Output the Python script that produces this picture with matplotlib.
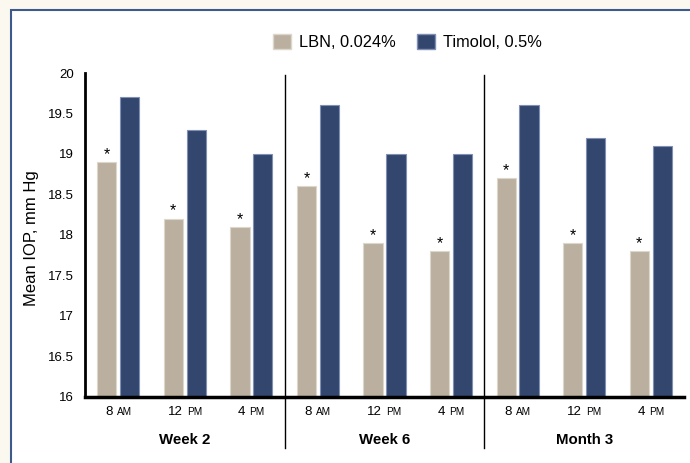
import matplotlib
matplotlib.use('Agg')
import matplotlib.pyplot as plt
import matplotlib.transforms as mtransforms
from matplotlib.patches import Rectangle, Patch
from matplotlib.offsetbox import TextArea, HPacker, AnnotationBbox
import numpy as np

plt.rcParams['font.family'] = ['Liberation Sans', 'DejaVu Sans']

# ---- data ----
periods = ['Week 2', 'Week 6', 'Month 3']
time_nums = ['8', '12', '4', '8', '12', '4', '8', '12', '4']
time_caps = ['AM', 'PM', 'PM', 'AM', 'PM', 'PM', 'AM', 'PM', 'PM']
lbn = [18.9, 18.2, 18.1, 18.6, 17.9, 17.8, 18.7, 17.9, 17.8]
timolol = [19.7, 19.3, 19.0, 19.6, 19.0, 19.0, 19.6, 19.2, 19.1]
series_names = ['LBN, 0.024%', 'Timolol, 0.5%']
yticks = [16, 16.5, 17, 17.5, 18, 18.5, 19, 19.5, 20]
ylabel = 'Mean IOP, mm Hg'

c_lbn = '#BBB0A0'
c_tim = '#33466E'

fig = plt.figure(figsize=(6.9, 4.63), dpi=100, facecolor='#FBF8EF')
# white panel with blue border
panel = Rectangle((10.5 / 690, -0.05), 1.0, 1 - 10 / 463 + 0.05,
                  transform=fig.transFigure, facecolor='white',
                  edgecolor='#3E5A8C', linewidth=1.5, zorder=-5)
fig.patches.append(panel)

ax = fig.add_axes([85 / 690, 1 - 396.5 / 463, 599 / 690, 323.5 / 463])
ax.set_facecolor('none')
ax.set_zorder(2)

x = np.arange(len(lbn))
off = 0.172
w = 0.29
ax.bar(x - off, lbn, width=w, color=c_lbn, edgecolor='#DDD6CB', linewidth=0.8, zorder=2)
ax.bar(x + off, timolol, width=w, color=c_tim, edgecolor='#8090B4', linewidth=0.8, zorder=2)

for xi, v in zip(x, lbn):
    ax.annotate('*', (xi - off, v), xytext=(0, 0), textcoords='offset points',
                ha='center', va='bottom', fontsize=11.5, color='black')

ax.set_xlim(-0.5, len(lbn) - 0.5)
ax.set_ylim(16, 20)
ax.set_yticks(yticks)
ax.set_yticklabels(['%g' % t for t in yticks], fontsize=9.5)
ax.tick_params(axis='y', length=0, pad=8)
ax.set_xticks([])

for s in ['top', 'right']:
    ax.spines[s].set_visible(False)
ax.spines['left'].set_linewidth(2)
ax.spines['bottom'].set_linewidth(2.5)
ax.spines['left'].set_color('black')
ax.spines['bottom'].set_color('black')

ax.set_ylabel(ylabel, fontsize=12)
ax.yaxis.set_label_coords(-0.077, 0.49)

trans = mtransforms.blended_transform_factory(ax.transData, ax.transAxes)

# time-of-day labels with small caps
for xi, num, cap in zip(x, time_nums, time_caps):
    box = HPacker(children=[TextArea(num, textprops=dict(fontsize=9.5)),
                            TextArea(cap, textprops=dict(fontsize=7.2))],
                  align='baseline', pad=0, sep=3)
    ab = AnnotationBbox(box, (xi, -0.047), xycoords=trans, box_alignment=(0.5, 0.5),
                        frameon=False, pad=0, annotation_clip=False)
    ax.add_artist(ab)

# period labels and separators
n_per = 3
for i, p in enumerate(periods):
    cx = i * n_per + (n_per - 1) / 2
    ax.text(cx, -0.136, p, transform=trans, ha='center', va='center',
            fontsize=10.8, fontweight='bold')
    if i > 0:
        sx = i * n_per - 0.5
        ax.plot([sx, sx], [-0.159, 0.994], transform=trans, color='black',
                lw=1, clip_on=False, zorder=3)

handles = [Patch(facecolor=c_lbn, edgecolor='#DDD6CB'),
           Patch(facecolor=c_tim, edgecolor='#8090B4')]
fig.legend(handles, series_names, loc='center', bbox_to_anchor=(0.5906, 0.9086),
           ncol=2, frameon=False, fontsize=11.8, handlelength=1.1,
           handleheight=1.04, handletextpad=0.51, columnspacing=1.28)

fig.savefig('out.png', dpi=100, facecolor=fig.get_facecolor())
